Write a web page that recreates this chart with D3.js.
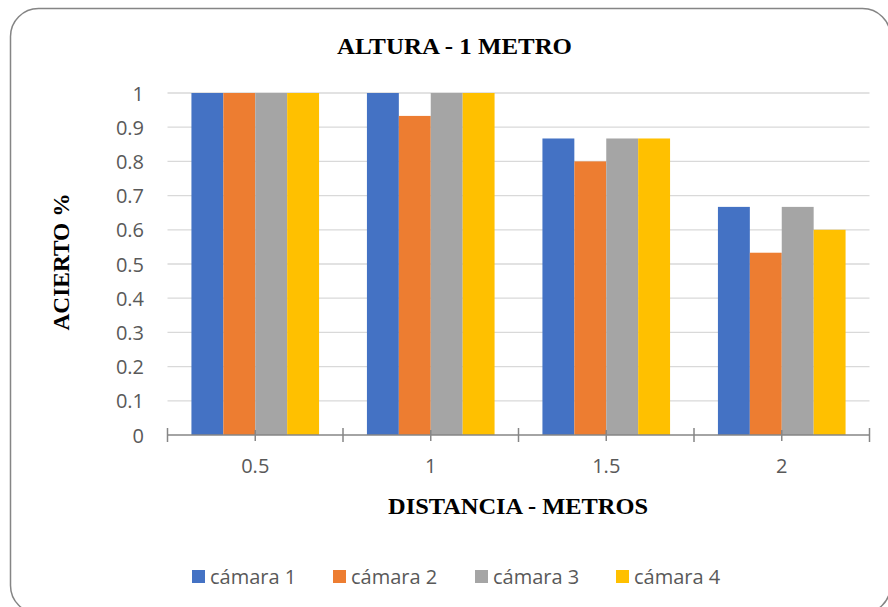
<html>
<head>
  <script src="https://d3js.org/d3.v7.min.js"></script>
  <style>
    body { margin: 0; background: #fff; }
    .tick-label { font-family: "Open Sans", sans-serif; font-size: 20px; fill: #595959; }
    .bold-title { font-family: "Liberation Serif", serif; font-weight: bold; fill: #000; }
  </style>
</head>
<body>
  <svg id="chart" width="888" height="607"></svg>
  <script>
    const distances = ["0.5", "1", "1.5", "2"];
    const series = ["cámara 1", "cámara 2", "cámara 3", "cámara 4"];
    const camara1 = [1, 1, 0.867, 0.667];
    const camara2 = [1, 0.933, 0.8, 0.533];
    const camara3 = [1, 1, 0.867, 0.667];
    const camara4 = [1, 1, 0.867, 0.6];
    const yTicks = [0, 0.1, 0.2, 0.3, 0.4, 0.5, 0.6, 0.7, 0.8, 0.9, 1];
    const colors = ["#4472C4", "#ED7D31", "#A5A5A5", "#FFC000"];

    const values = [camara1, camara2, camara3, camara4];

    const svg = d3.select("#chart");

    // frame
    svg.append("rect")
      .attr("x", 10.5).attr("y", 8.5)
      .attr("width", 880).attr("height", 605)
      .attr("rx", 28).attr("ry", 28)
      .attr("fill", "white")
      .attr("stroke", "#858585")
      .attr("stroke-width", 1.5);

    const plot = { left: 167.5, right: 869.5, top: 93, bottom: 435 };

    const x = d3.scaleBand().domain(distances).range([plot.left, plot.right]);
    const barW = x.bandwidth() / 5.5;
    const xs = d3.scaleBand().domain(series).range([barW * 0.75, x.bandwidth() - barW * 0.75]);
    const y = d3.scaleLinear().domain([0, 1]).range([plot.bottom, plot.top]);

    // gridlines
    svg.append("g")
      .selectAll("line")
      .data(yTicks.slice(1))
      .join("line")
      .attr("x1", plot.left).attr("x2", plot.right)
      .attr("y1", d => y(d)).attr("y2", d => y(d))
      .attr("stroke", "#d9d9d9")
      .attr("stroke-width", 1.3);

    // y labels
    svg.append("g")
      .selectAll("text")
      .data(yTicks)
      .join("text")
      .attr("class", "tick-label")
      .attr("x", 144)
      .attr("y", d => y(d))
      .attr("text-anchor", "end")
      .attr("dominant-baseline", "central")
      .text(d => d);

    // bars
    distances.forEach((dist, i) => {
      series.forEach((s, j) => {
        svg.append("rect")
          .attr("x", x(dist) + xs(s))
          .attr("y", y(values[j][i]))
          .attr("width", xs.bandwidth())
          .attr("height", y(0) - y(values[j][i]))
          .attr("fill", colors[j]);
      });
    });

    // x axis line + ticks
    const axis = svg.append("g").attr("stroke", "#868686").attr("stroke-width", 1.5);
    axis.append("line")
      .attr("x1", plot.left).attr("x2", plot.right)
      .attr("y1", plot.bottom).attr("y2", plot.bottom);
    const bounds = distances.map(d => x(d)).concat([plot.right]);
    axis.selectAll("line.b")
      .data(bounds)
      .join("line")
      .attr("class", "b")
      .attr("x1", d => d).attr("x2", d => d)
      .attr("y1", plot.bottom - 7).attr("y2", plot.bottom + 7);
    axis.selectAll("line.c")
      .data(distances)
      .join("line")
      .attr("class", "c")
      .attr("x1", d => x(d) + x.bandwidth() / 2).attr("x2", d => x(d) + x.bandwidth() / 2)
      .attr("y1", plot.bottom - 5).attr("y2", plot.bottom + 6);

    // x labels
    svg.append("g")
      .selectAll("text")
      .data(distances)
      .join("text")
      .attr("class", "tick-label")
      .attr("x", d => x(d) + x.bandwidth() / 2)
      .attr("y", 473)
      .attr("text-anchor", "middle")
      .text(d => d);

    // titles
    svg.append("text")
      .attr("class", "bold-title")
      .attr("x", 454.5).attr("y", 54)
      .attr("text-anchor", "middle")
      .attr("font-size", 24)
      .attr("textLength", 235).attr("lengthAdjust", "spacingAndGlyphs")
      .text("ALTURA - 1 METRO");

    svg.append("text")
      .attr("class", "bold-title")
      .attr("x", 518).attr("y", 514)
      .attr("text-anchor", "middle")
      .attr("font-size", 24)
      .attr("textLength", 260).attr("lengthAdjust", "spacingAndGlyphs")
      .text("DISTANCIA - METROS");

    svg.append("text")
      .attr("class", "bold-title")
      .attr("transform", "translate(69,262) rotate(-90)")
      .attr("text-anchor", "middle")
      .attr("font-size", 24)
      .attr("textLength", 137).attr("lengthAdjust", "spacingAndGlyphs")
      .text("ACIERTO %");

    // legend
    const legendX = [192, 333, 475, 616];
    const legend = svg.append("g");
    series.forEach((s, j) => {
      legend.append("rect")
        .attr("x", legendX[j]).attr("y", 570)
        .attr("width", 13).attr("height", 13)
        .attr("fill", colors[j]);
      legend.append("text")
        .attr("class", "tick-label")
        .attr("x", legendX[j] + 18).attr("y", 576)
        .attr("dominant-baseline", "central")
        .text(s);
    });
  </script>
</body>
</html>
